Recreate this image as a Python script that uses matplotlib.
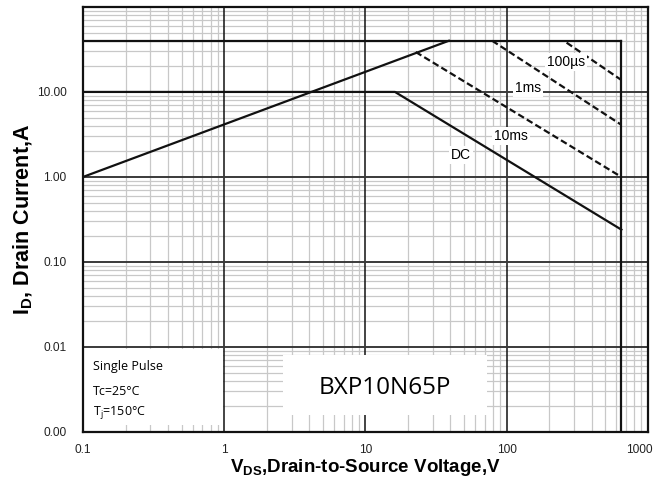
import matplotlib
matplotlib.use("Agg")
import matplotlib.pyplot as plt
import matplotlib.transforms as mtrans
from matplotlib.ticker import FixedLocator, FixedFormatter, LogLocator, NullFormatter
from matplotlib.patches import Rectangle

# Safe operating area data
rds_v = [0.1, 39.0]
rds_i = [1.0, 40.0]
pulse_top_v = [0.1, 650.0]
pulse_top_i = [40.0, 40.0]
vmax_v = [650.0, 650.0]
vmax_i = [0.001, 40.0]
dc_v = [0.1, 16.2, 650.0]
dc_i = [10.0, 10.0, 0.24]
ms10_v = [22.7, 650.0]
ms10_i = [29.5, 1.0]
ms1_v = [79.0, 650.0]
ms1_i = [40.0, 4.1]
us100_v = [266.0, 650.0]
us100_i = [38.0, 13.8]

xticks = [0.1, 1, 10, 100, 1000]
xticklabels = ["0.1", "1", "10", "100", "1000"]
yticks = [0.001, 0.01, 0.1, 1, 10]
yticklabels = ["0.00", "0.01", "0.10", "1.00", "10.00"]

plt.rcParams['font.family'] = ['Liberation Sans', 'DejaVu Sans']

fig = plt.figure(figsize=(6.59, 4.88), dpi=100)
ax = fig.add_axes([0.126, 0.1148, 0.857, 0.871])
ax.set_xscale('log')
ax.set_yscale('log')
ax.set_xlim(0.1, 1000)
ax.set_ylim(0.001, 100)

ax.xaxis.set_major_locator(FixedLocator(xticks))
ax.xaxis.set_major_formatter(FixedFormatter(xticklabels))
ax.yaxis.set_major_locator(FixedLocator(yticks))
ax.yaxis.set_major_formatter(FixedFormatter(yticklabels))
ax.xaxis.set_minor_locator(LogLocator(base=10, subs=range(2, 10), numticks=20))
ax.yaxis.set_minor_locator(LogLocator(base=10, subs=range(2, 10), numticks=20))
ax.xaxis.set_minor_formatter(NullFormatter())
ax.yaxis.set_minor_formatter(NullFormatter())
ax.tick_params(which='both', length=0, labelsize=8.6, colors='#222222')
ax.tick_params(axis='x', pad=9)
ax.tick_params(axis='y', pad=12)

ax.grid(which='minor', color='#c8c8c8', linewidth=0.9, zorder=0.5)
ax.set_axisbelow(True)
for xv in xticks[1:-1]:
    ax.axvline(xv, color='#111111', lw=1.1, zorder=1.2)
for yv in yticks[1:]:
    ax.axhline(yv, color='#3a3a3a', lw=1.4, zorder=1.2)
for s in ax.spines.values():
    s.set_linewidth(1.6)
    s.set_color('#111111')

lw = 1.6
dash = (0, (3, 1.5))
ax.plot(rds_v, rds_i, color='#111111', lw=lw, zorder=2)
ax.plot(pulse_top_v, pulse_top_i, color='#111111', lw=lw, zorder=2)
ax.plot(vmax_v, vmax_i, color='#111111', lw=lw, zorder=2)
ax.plot(dc_v, dc_i, color='#111111', lw=lw, zorder=2)
ax.plot(ms10_v, ms10_i, color='#111111', lw=lw, ls=dash, zorder=2)
ax.plot(ms1_v, ms1_i, color='#111111', lw=lw, ls=dash, zorder=2)
ax.plot(us100_v, us100_i, color='#111111', lw=lw, ls=dash, zorder=2)

bb = dict(facecolor='white', edgecolor='none', pad=1.5)
ax.text(262, 22.5, "100µs", fontsize=10, ha='center', va='center', bbox=bb, zorder=3)
ax.text(141, 11.1, "1ms", fontsize=10, ha='center', va='center', bbox=bb, zorder=3)
ax.text(107, 3.03, "10ms", fontsize=10, ha='center', va='center', bbox=bb, zorder=3)
ax.text(47.3, 1.82, "DC", fontsize=10, ha='center', va='center', bbox=bb, zorder=3)

# white boxes
ax.add_patch(Rectangle((0.1, 0.00121), 0.98 - 0.1, 0.00946 - 0.00121, facecolor='white',
                       edgecolor='none', zorder=1.8))
ax.add_patch(Rectangle((2.6, 0.00158), 72.5 - 2.6, 0.00805 - 0.00158, facecolor='white',
                       edgecolor='none', zorder=1.8))
cal = ['Open Sans', 'DejaVu Sans']
ax.text(0.117, 0.00582, "Single Pulse", fontsize=9, va='center', family=cal, zorder=3)
ax.text(0.117, 0.00296, "Tc=25°C", fontsize=9, va='center', family=cal, zorder=3)
ax.text(0.117, 0.00168, "T$_\\mathregular{j}$=150°C", fontsize=9, va='center', family=cal, zorder=3)
ax.text(13.7, 0.0033, "BXP10N65P", fontsize=17.5, ha='center', va='center', family=cal, zorder=3)

ax.set_xlabel("V$_\\mathregular{DS}$,Drain-to-Source Voltage,V", fontsize=13.5, fontweight='bold', labelpad=0.5)
ax.set_ylabel("I$_\\mathregular{D}$, Drain Current,A", fontsize=15.5, fontweight='bold', labelpad=1)

# nudge the last x tick label so it stays inside the figure
last = ax.get_xticklabels()[-1]
last.set_transform(last.get_transform() + mtrans.ScaledTranslation(-6 / 72, 0, fig.dpi_scale_trans))

fig.savefig("out.png", dpi=100)
